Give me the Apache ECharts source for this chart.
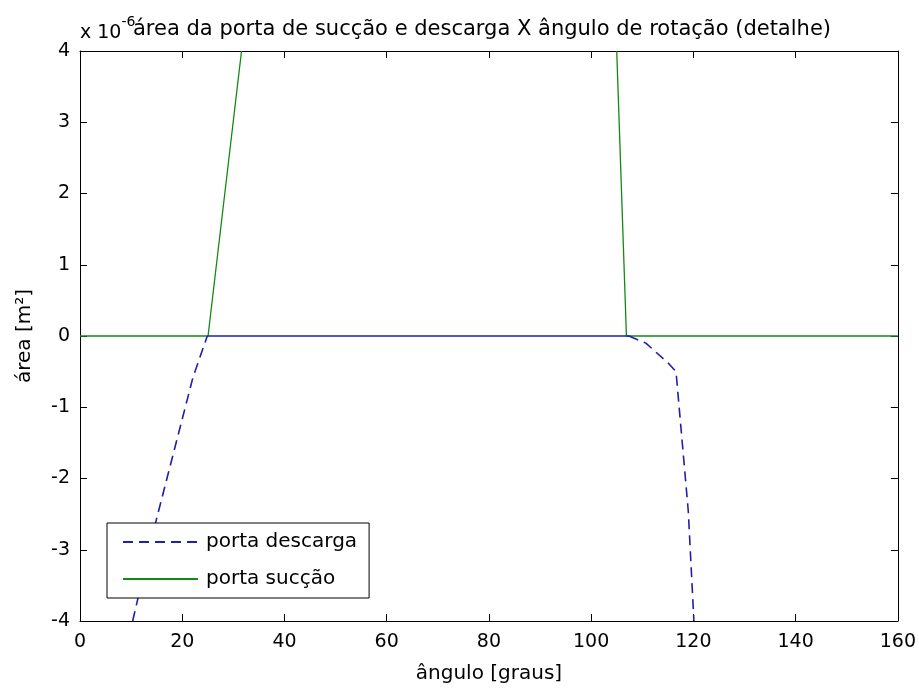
<!DOCTYPE html>
<html>
<head>
<meta charset="utf-8">
<script src="https://cdn.jsdelivr.net/npm/echarts@6/dist/echarts.min.js"></script>
<style>
html,body{margin:0;padding:0;background:#fff;}
#chart{width:919px;height:689px;}
</style>
</head>
<body>
<div id="chart"></div>
<script>
const titleText = 'área da porta de sucção e descarga X ângulo de rotação (detalhe)';
const xLabel = 'ângulo [graus]';
const yLabel = 'área [m²]';
const legendNames = ['porta descarga', 'porta sucção'];
const xTicks = [0, 20, 40, 60, 80, 100, 120, 140, 160];
const yTicks = [-4, -3, -2, -1, 0, 1, 2, 3, 4];
// values in units of 1e-6 m^2
const succaoA = [[0, 0], [25.05, 0], [31.6, 4]];
const succaoB = [[105.0, 4], [106.9, 0], [160, 0]];
const descargaA = [[10.3, -4], [15.0, -2.56], [22.1, -0.58], [24.9, 0]];
const descargaMid = [[24.9, 0], [107.4, 0]];
const descargaB = [[107.4, 0], [110.7, -0.1], [115.2, -0.39], [116.6, -0.5], [119.0, -2.46], [120.1, -4]];

const FONT = '"DejaVu Sans", sans-serif';
const BLUE = '#1f1fa8';
const GREEN = '#118a11';

const chart = echarts.init(document.getElementById('chart'), null, {renderer: 'canvas'});
function axisCommon() {
  return {
    axisLine: {show: true, onZero: false, lineStyle: {color: '#000', width: 1}},
    axisTick: {show: true, inside: true, length: 7, lineStyle: {color: '#000'}},
    splitLine: {show: false}
  };
}
chart.setOption({
  backgroundColor: '#fff',
  animation: false,
  title: {
    text: titleText,
    left: 477, top: 14, textAlign: 'center',
    textStyle: {fontFamily: FONT, fontSize: 21, fontWeight: 'normal', color: '#000'}
  },
  graphic: [{
    type: 'text', left: 80, top: 15,
    style: {
      text: '{a|x 10}{b|-6}',
      rich: {
        a: {fontFamily: FONT, fontSize: 19, fill: '#000', padding: [9, 0, 0, 0]},
        b: {fontFamily: FONT, fontSize: 14, fill: '#000', verticalAlign: 'top'}
      }
    }
  }],
  grid: {left: 80, right: 20, top: 51, bottom: 66, containLabel: false},
  legend: {
    data: legendNames,
    orient: 'vertical',
    left: 107, top: 523,
    itemWidth: 75, itemHeight: 20, itemGap: 17,
    padding: [9, 12, 9, 15],
    borderColor: '#000', borderWidth: 1,
    backgroundColor: '#fff',
    itemStyle: {opacity: 0},
    textStyle: {fontFamily: FONT, fontSize: 20, color: '#000', padding: [0, 0, 0, 3]}
  },
  xAxis: [
    Object.assign({
      type: 'value', min: 0, max: 160, interval: 20, position: 'bottom',
      name: xLabel, nameLocation: 'middle', nameGap: 43,
      nameTextStyle: {fontFamily: FONT, fontSize: 20, color: '#000'},
      axisLabel: {fontFamily: FONT, fontSize: 19, color: '#000', margin: 12,
        formatter: v => xTicks.includes(v) ? String(v) : ''}
    }, axisCommon()),
    Object.assign({
      type: 'value', min: 0, max: 160, interval: 20, position: 'top',
      axisLabel: {show: false}
    }, axisCommon())
  ],
  yAxis: [
    Object.assign({
      type: 'value', min: -4, max: 4, interval: 1, position: 'left',
      name: yLabel, nameLocation: 'middle', nameGap: 45,
      nameTextStyle: {fontFamily: FONT, fontSize: 20, color: '#000'},
      axisLabel: {fontFamily: FONT, fontSize: 19, color: '#000', margin: 10,
        formatter: v => yTicks.includes(v) ? String(v) : ''}
    }, axisCommon()),
    Object.assign({
      type: 'value', min: -4, max: 4, interval: 1, position: 'right',
      axisLabel: {show: false}
    }, axisCommon())
  ],
  series: [
    {name: 'porta sucção', type: 'line', data: succaoA, showSymbol: false, symbol: 'none',
      lineStyle: {color: GREEN, width: 1.3}, itemStyle: {color: GREEN}},
    {name: 'porta sucção', type: 'line', data: succaoB, showSymbol: false, symbol: 'none',
      lineStyle: {color: GREEN, width: 1.3}, itemStyle: {color: GREEN}},
    {name: 'porta descarga', type: 'line', data: descargaA, showSymbol: false, symbol: 'none',
      lineStyle: {color: BLUE, width: 1.6, type: [10, 6]}, itemStyle: {color: BLUE}},
    {name: 'porta descarga', type: 'line', data: descargaMid, showSymbol: false, symbol: 'none',
      lineStyle: {color: BLUE, width: 1.6}, itemStyle: {color: BLUE}},
    {name: 'porta descarga', type: 'line', data: descargaB, showSymbol: false, symbol: 'none',
      lineStyle: {color: BLUE, width: 1.6, type: [10, 6]}, itemStyle: {color: BLUE}}
  ]
});
</script>
</body>
</html>
